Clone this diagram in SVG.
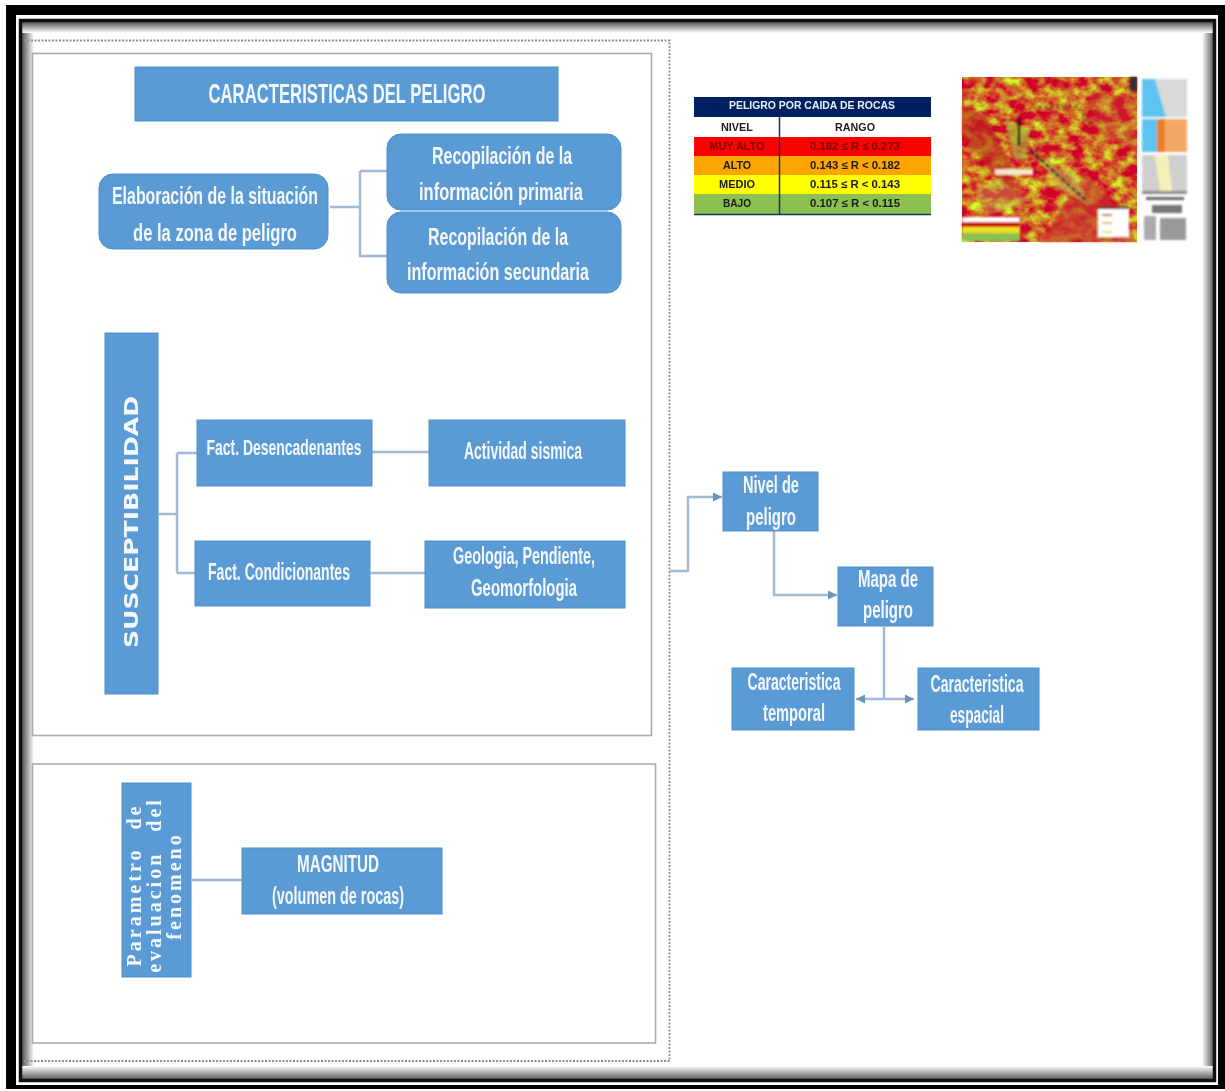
<svg xmlns="http://www.w3.org/2000/svg" width="1225" height="1091" viewBox="0 0 1225 1091">
<style>
.n{fill:#5b9bd5;stroke:#4f8fca;stroke-width:1}
.t{font-family:"Liberation Sans",Arial,sans-serif;fill:#f4f8fc;font-size:24px;font-weight:bold;text-anchor:middle;filter:url(#soft)}
.s{font-family:"Liberation Serif",serif;font-size:20px;letter-spacing:3px}
.c{fill:none;stroke:#a3b9d6;stroke-width:2.5}
.a{fill:#6e93bb}
.p{fill:none;stroke:#a8adb2;stroke-width:1.6}
.b{font-family:"Liberation Sans",Arial,sans-serif;font-size:11px;font-weight:bold;text-anchor:middle;fill:#1a1a1a;filter:url(#soft2)}
</style>
<defs>
<filter id="soft" x="-5%" y="-20%" width="110%" height="140%"><feGaussianBlur stdDeviation="0.55"/></filter>
<filter id="soft2" x="-5%" y="-20%" width="110%" height="140%"><feGaussianBlur stdDeviation="0.7"/></filter>
<filter id="blur" x="-5%" y="-5%" width="110%" height="110%"><feGaussianBlur stdDeviation="1.1"/></filter>
<filter id="noise" x="0" y="0" width="100%" height="100%" color-interpolation-filters="sRGB"><feTurbulence type="fractalNoise" baseFrequency="0.07 0.09" numOctaves="3" seed="7"/><feColorMatrix type="matrix" values="0 0 0 0 0.82  2 0 0 0 -0.62  0 0 0 0 0.16  0 0 0 0 1"/><feGaussianBlur stdDeviation="0.7"/></filter>
<linearGradient id="gl"><stop offset="0" stop-color="#555"/><stop offset="1" stop-color="#fff"/></linearGradient>
<linearGradient id="gr"><stop offset="0" stop-color="#fff"/><stop offset="1" stop-color="#555"/></linearGradient>
<linearGradient id="gt" x2="0" y2="1"><stop offset="0" stop-color="#555"/><stop offset="1" stop-color="#fff"/></linearGradient>
<linearGradient id="gb" x2="0" y2="1"><stop offset="0" stop-color="#fff"/><stop offset="1" stop-color="#555"/></linearGradient>
<marker id="ah" markerWidth="10" markerHeight="10" refX="9" refY="5" orient="auto" markerUnits="userSpaceOnUse"><path class="a" d="M0 0.500L9 5L0 9.500Z"/></marker>
</defs>
<rect width="1225" height="1091" fill="#fff"/>
<g id="frame">
<rect x="22" y="22" width="12" height="1058" fill="url(#gl)"/>
<rect x="1202" y="22" width="12" height="1058" fill="url(#gr)"/>
<rect x="22" y="22" width="1192" height="11" fill="url(#gt)"/>
<rect x="22" y="1066" width="1192" height="14" fill="url(#gb)"/>
<rect x="20.500" y="20.500" width="1194" height="1060" fill="none" stroke="#111" stroke-width="3.500"/>
<path fill="#000" fill-rule="evenodd" d="M6 5H1225V1089H6ZM16 15V1085H1218V15Z"/>
</g>
<g id="panels">
<path d="M24 40.500H669.500V1061H24" fill="none" stroke="#8b8f93" stroke-width="1.800" stroke-dasharray="2 1.500"/>
<rect class="p" x="32.500" y="53.500" width="619" height="682"/>
<rect class="p" x="32.500" y="764" width="623" height="279"/>
</g>
<g id="connectors">
<path class="c" d="M330 207H360M360 171H387M360 171V256H387"/>
<path class="c" d="M159 514H177M177 453V573M177 453H197M177 573H195"/>
<path class="c" d="M372 452H429M371 573H425"/>
<path class="c" d="M192 880H242"/>
<path class="c" d="M670 571H688V497H722" marker-end="url(#ah)"/>
<path class="c" d="M774 531V595H837" marker-end="url(#ah)"/>
<path class="c" d="M884 627V699"/>
<path class="c" d="M884 699H856" marker-end="url(#ah)"/>
<path class="c" d="M884 699H914" marker-end="url(#ah)"/>
</g>
<g id="n-caracteristicas"><rect class="n" x="135" y="67" width="423" height="54"/><text class="t" x="347" y="103" style="font-size:28px" textLength="277" lengthAdjust="spacingAndGlyphs">CARACTERISTICAS DEL PELIGRO</text></g>
<g id="n-elaboracion"><rect class="n" x="99" y="174" width="229" height="75" rx="14"/><text class="t" x="215" y="204" textLength="206" lengthAdjust="spacingAndGlyphs">Elaboración de la situación</text><text class="t" x="215" y="241" textLength="164" lengthAdjust="spacingAndGlyphs">de la zona de peligro</text></g>
<g id="n-primaria"><rect class="n" x="387" y="134" width="234" height="76" rx="14"/><text class="t" x="502" y="164" textLength="140" lengthAdjust="spacingAndGlyphs">Recopilación de la</text><text class="t" x="501" y="200" textLength="164" lengthAdjust="spacingAndGlyphs">información primaria</text></g>
<g id="n-secundaria"><rect class="n" x="387" y="212" width="234" height="81" rx="14"/><text class="t" x="498" y="245" textLength="140" lengthAdjust="spacingAndGlyphs">Recopilación de la</text><text class="t" x="498" y="280" textLength="182" lengthAdjust="spacingAndGlyphs">información secundaria</text></g>
<g id="n-susceptibilidad"><rect class="n" x="105" y="333" width="53" height="361"/><text class="t" transform="translate(138 522) rotate(-90)" style="font-size:20px;font-family:'DejaVu Sans',sans-serif" textLength="252" lengthAdjust="spacingAndGlyphs">SUSCEPTIBILIDAD</text></g>
<g id="n-desencadenantes"><rect class="n" x="197" y="420" width="175" height="66"/><text class="t" x="284" y="455" style="font-size:22px" textLength="155" lengthAdjust="spacingAndGlyphs">Fact. Desencadenantes</text></g>
<g id="n-actividad"><rect class="n" x="429" y="420" width="196" height="66"/><text class="t" x="523" y="459" style="font-size:23px" textLength="118" lengthAdjust="spacingAndGlyphs">Actividad sismica</text></g>
<g id="n-condicionantes"><rect class="n" x="195" y="541" width="175" height="65"/><text class="t" x="279" y="580" style="font-size:23px" textLength="142" lengthAdjust="spacingAndGlyphs">Fact. Condicionantes</text></g>
<g id="n-geologia"><rect class="n" x="425" y="541" width="200" height="67"/><text class="t" x="524" y="564" style="font-size:23px" textLength="142" lengthAdjust="spacingAndGlyphs">Geologia, Pendiente,</text><text class="t" x="524" y="596" style="font-size:23px" textLength="106" lengthAdjust="spacingAndGlyphs">Geomorfologia</text></g>
<g id="n-parametro"><rect class="n" x="122" y="783" width="69" height="194"/><text class="t s" transform="translate(141 885) rotate(-90)" style="word-spacing:10px">Parametro de</text><text class="t s" transform="translate(161 885) rotate(-90)" style="word-spacing:12px">evaluacion del</text><text class="t s" transform="translate(181 886) rotate(-90)">fenomeno</text></g>
<g id="n-magnitud"><rect class="n" x="242" y="848" width="200" height="66"/><text class="t" x="338" y="872" style="font-size:23px" textLength="82" lengthAdjust="spacingAndGlyphs">MAGNITUD</text><text class="t" x="338" y="904" style="font-size:23px" textLength="132" lengthAdjust="spacingAndGlyphs">(volumen de rocas)</text></g>
<g id="n-nivel"><rect class="n" x="723" y="472" width="95" height="59"/><text class="t" x="771" y="493" style="font-size:23px" textLength="56" lengthAdjust="spacingAndGlyphs">Nivel de</text><text class="t" x="771" y="525" style="font-size:23px" textLength="50" lengthAdjust="spacingAndGlyphs">peligro</text></g>
<g id="n-mapa"><rect class="n" x="838" y="567" width="95" height="59"/><text class="t" x="888" y="587" style="font-size:23px" textLength="60" lengthAdjust="spacingAndGlyphs">Mapa de</text><text class="t" x="888" y="618" style="font-size:23px" textLength="50" lengthAdjust="spacingAndGlyphs">peligro</text></g>
<g id="n-temporal"><rect class="n" x="732" y="668" width="122" height="62"/><text class="t" x="794" y="690" style="font-size:23px" textLength="93" lengthAdjust="spacingAndGlyphs">Caracteristica</text><text class="t" x="794" y="721" style="font-size:23px" textLength="62" lengthAdjust="spacingAndGlyphs">temporal</text></g>
<g id="n-espacial"><rect class="n" x="918" y="668" width="121" height="62"/><text class="t" x="977" y="692" style="font-size:23px" textLength="93" lengthAdjust="spacingAndGlyphs">Caracteristica</text><text class="t" x="977" y="723" style="font-size:23px" textLength="54" lengthAdjust="spacingAndGlyphs">espacial</text></g>
<g id="legend-table">
<g style="filter:blur(.5px)">
<rect x="694" y="97" width="237" height="20" fill="#002060"/>
<rect x="694" y="117" width="237" height="20" fill="#fff"/>
<rect x="694" y="137" width="237" height="19" fill="#f00"/>
<rect x="694" y="156" width="237" height="19" fill="#ffa500"/>
<rect x="694" y="175" width="237" height="19" fill="#ff0"/>
<rect x="694" y="194" width="237" height="20" fill="#8cc152"/>
<path d="M779.500 117V214M694 214.500H931" stroke="#17365d" stroke-width="1.500" fill="none"/>
</g>
<text class="b" x="812" y="109" style="fill:#e8eef8" textLength="166" lengthAdjust="spacingAndGlyphs">PELIGRO POR CAIDA DE ROCAS</text>
<text class="b" x="737" y="131" textLength="32" lengthAdjust="spacingAndGlyphs">NIVEL</text><text class="b" x="855" y="131" textLength="40" lengthAdjust="spacingAndGlyphs">RANGO</text>
<text class="b" x="737" y="150" style="fill:#7a0a0a" textLength="55" lengthAdjust="spacingAndGlyphs">MUY ALTO</text><text class="b" x="855" y="150" style="fill:#7a0a0a" textLength="90" lengthAdjust="spacingAndGlyphs">0.182 ≤ R ≤ 0.273</text>
<text class="b" x="737" y="169" textLength="28" lengthAdjust="spacingAndGlyphs">ALTO</text><text class="b" x="855" y="169" textLength="90" lengthAdjust="spacingAndGlyphs">0.143 ≤ R &lt; 0.182</text>
<text class="b" x="737" y="188" textLength="36" lengthAdjust="spacingAndGlyphs">MEDIO</text><text class="b" x="855" y="188" textLength="90" lengthAdjust="spacingAndGlyphs">0.115 ≤ R &lt; 0.143</text>
<text class="b" x="737" y="207" textLength="28" lengthAdjust="spacingAndGlyphs">BAJO</text><text class="b" x="855" y="207" textLength="90" lengthAdjust="spacingAndGlyphs">0.107 ≤ R &lt; 0.115</text>
</g>
<g id="map">
<rect x="962" y="77" width="175" height="165" filter="url(#noise)"/>
<g filter="url(#blur)">
<path d="M962 105L985 115L1012 165L1015 195L990 170L962 135Z" fill="#b92f22" opacity=".6"/>
<path d="M1060 210L1085 175L1120 210L1137 242H1040Z" fill="#c8342a" opacity=".65"/>
<path d="M1085 90L1137 100V150L1100 135Z" fill="#c84030" opacity=".4"/>
<path d="M1005 120L1030 130L1025 160H1015Z" fill="#a7b23a" opacity=".65"/>
<path d="M1040 160L1075 175L1090 205L1060 190Z" fill="#c5bf52" opacity=".6"/>
<path d="M975 190L1000 180L1030 200L990 215Z" fill="#c5bf52" opacity=".4"/>
<rect x="1130" y="77" width="7" height="14" fill="#333"/>
<path d="M1019 118V146" stroke="#111" stroke-width="2.500"/>
<path d="M1030 150L1072 188L1088 202" stroke="#222" stroke-width="2.500" stroke-dasharray="5 2" fill="none"/>
<path d="M1038 107H1078L1090 125" stroke="#333" stroke-width="1.500" stroke-dasharray="3 3" fill="none"/>
<rect x="995" y="169" width="38" height="6" fill="#f3e6cc"/>
<rect x="962" y="217" width="58" height="5" fill="#fff"/>
<rect x="962" y="222" width="58" height="5" fill="#c81e10"/>
<rect x="962" y="227" width="58" height="6" fill="#f0e020"/>
<rect x="962" y="233" width="58" height="8" fill="#8cc152"/>
<rect x="1098" y="208" width="31" height="29" fill="#fff"/>
<rect x="1098" y="207" width="31" height="2" fill="#222"/>
<rect x="1102" y="214" width="10" height="2" fill="#c44"/><rect x="1102" y="222" width="10" height="2" fill="#ea5"/><rect x="1102" y="231" width="10" height="2" fill="#dd5"/>
<rect x="1142" y="79" width="45" height="38" fill="#d9d9d9"/>
<path d="M1142 79H1155L1166 117H1142Z" fill="#5cc4ee"/>
<rect x="1142" y="119" width="45" height="33" fill="#f4a868"/>
<path d="M1142 119H1157V152H1142Z" fill="#5cc4ee"/>
<rect x="1157" y="119" width="8" height="33" fill="#ec7f22"/>
<rect x="1142" y="155" width="45" height="36" fill="#cfcfcf"/>
<path d="M1155 155H1168L1172 191H1160Z" fill="#f6efb8"/>
<rect x="1142" y="191" width="45" height="3" fill="#888"/>
<rect x="1146" y="197" width="38" height="3" fill="#666"/>
<rect x="1152" y="205" width="30" height="8" fill="#777"/>
<rect x="1144" y="216" width="12" height="24" fill="#aaa"/>
<rect x="1160" y="218" width="26" height="22" fill="#999"/>
</g>
</g>
</svg>
